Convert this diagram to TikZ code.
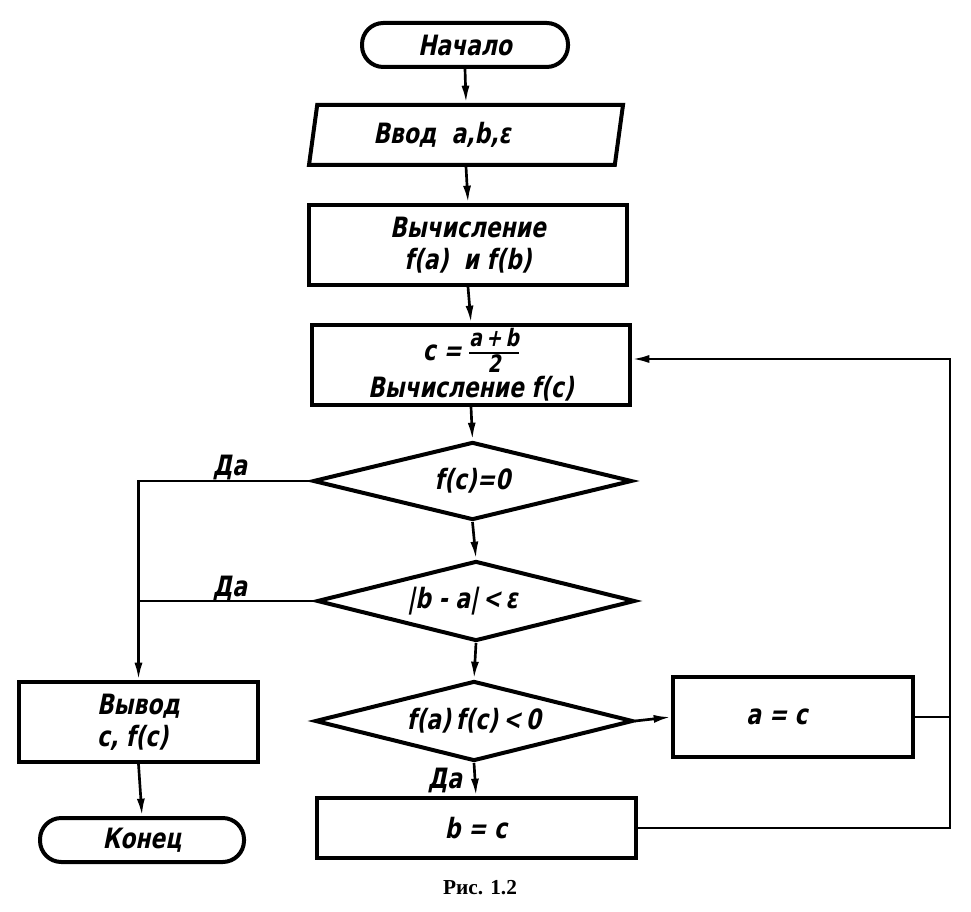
\documentclass[tikz,border=0pt]{standalone}
\usepackage{fontspec}
\setmainfont{DejaVu Sans}[FakeStretch=0.78,FakeSlant=0.2]
\newfontfamily\capfont{Liberation Serif}
\usetikzlibrary{shapes.geometric,arrows.meta}
\setlength{\arrayrulewidth}{1.6pt}
\newcommand{\gfrac}[2]{\begin{tabular}[c]{@{}c@{}}#1\\[-2pt]\hline\noalign{\vskip 1pt}#2\end{tabular}}
\def\px{0.75pt}
\begin{document}
\begin{tikzpicture}[x=0.75pt,y=-0.75pt,
  font=\bfseries\fontsize{21}{24}\selectfont,
  box/.style={draw, line width=3pt, rectangle, inner sep=0pt, align=center},
  term/.style={box, rounded corners=16pt},
  io/.style={draw, line width=3pt, trapezium, trapezium left angle=72, trapezium right angle=108, trapezium stretches body, inner sep=0pt},
  dec/.style={draw, line width=3pt, diamond, shape aspect=4, inner sep=0pt},
  flow/.style={line width=2pt, -{Latex[length=13pt,width=6pt]}},
  conn/.style={line width=2pt},
  lbl/.style={inner sep=0pt}]
\fill[white] (0,0) rectangle (971,912);
\useasboundingbox (0,0) rectangle (971,912);

\node[term, minimum width=206*\px, minimum height=44*\px] (start) at (465,45) {Начало};
\node[io, minimum width=314*\px, minimum height=60*\px] (input) at (466,135) {Ввод~~a,b,ε\hspace*{36pt}};
\node[box, minimum width=318*\px, minimum height=80*\px] (calc1) at (468,245) {Вычисление\\f(a)~~и~f(b)};
\node[box, minimum width=318*\px, minimum height=80*\px] (calc2) at (471,365) {c = {\fontsize{18}{19}\selectfont\gfrac{a\,+\,b}{2}}\\[-4pt]Вычисление f(c)};
\node[dec, minimum width=319*\px, minimum height=78*\px] (d1) at (472.5,481) {f(c)=0};
\node[dec, minimum width=318*\px, minimum height=80*\px] (d2) at (476,601) {|b - a|\,<\,ε\hspace*{20pt}};
\node[dec, minimum width=318*\px, minimum height=80*\px] (d3) at (474,721) {f(a)\,f(c)\,<\,0};
\node[box, minimum width=240*\px, minimum height=80*\px] (ac) at (793,717) {a = c\hspace*{24pt}};
\node[box, minimum width=319*\px, minimum height=60*\px] (bc) at (476,828) {b = c};
\node[box, minimum width=239*\px, minimum height=80*\px, align=left] (out) at (138.5,722) {Вывод\\c, f(c)};
\node[term, minimum width=204*\px, minimum height=44*\px] (end) at (142,840) {Конец};

\node[lbl] (yes1) at (230,467) {Да};
\node[lbl] (yes2) at (230,588) {Да};
\node[lbl] (yes3) at (445,780) {Да};
\node[lbl, font=\capfont\bfseries\fontsize{16}{18}\selectfont] (cap) at (480,888) {Рис. 1.2};

\draw[flow] (start.south) -- (input.north);
\draw[flow] (input.south) -- (calc1.north);
\draw[flow] (calc1.south) -- (calc2.north);
\draw[flow] (calc2.south) -- (d1.north);
\draw[flow] (d1.south) -- (d2.north);
\draw[flow] (d2.south) -- (d3.north);
\draw[flow] (d3.south) -- (bc.north);
\draw[flow] (d3.east) -- (ac.west);
\draw[flow] (d1.west) -| (out.north);
\draw[conn] (d2.west) -- (d2.west -| out.north);
\draw[flow] (out.south) -- (end.north);
\coordinate (rt) at (950,359);
\draw[conn] (ac.east) -- (ac.east -| rt);
\draw[flow] (bc.east) -| (rt) -- (calc2.east |- rt);
\end{tikzpicture}
\end{document}
